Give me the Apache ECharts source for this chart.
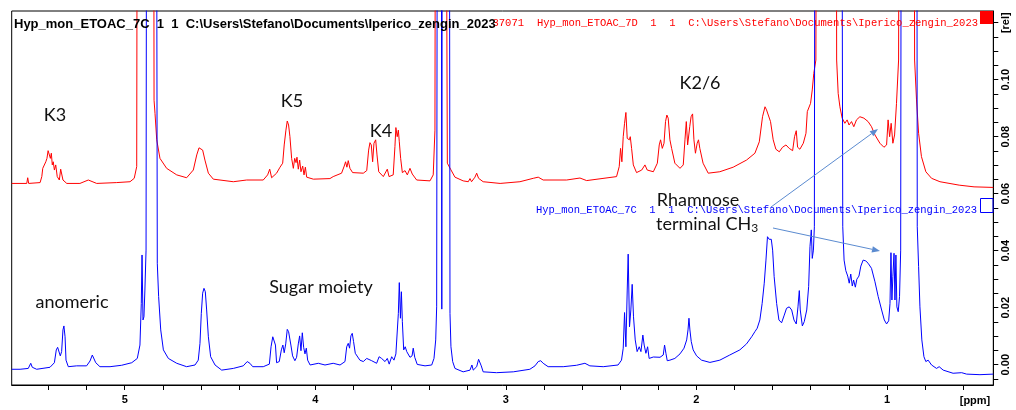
<!DOCTYPE html>
<html>
<head>
<meta charset="utf-8">
<script src="https://cdn.jsdelivr.net/npm/echarts@6/dist/echarts.min.js"></script>
<style>
  html, body { margin: 0; padding: 0; background: #fff; }
  #chart { width: 1016px; height: 410px; }
</style>
</head>
<body>
<div id="chart"></div>
<script>
// 1H NMR, two spectra stacked: [ppm, intensity]; 0.3 = peak running off the top
var redTrace = [
  [5.593,0.0636],[5.514,0.0636],[5.509,0.0656],[5.504,0.0636],[5.444,0.0639],[5.435,0.0660],[5.430,0.0689],[5.423,0.0683],
  [5.414,0.0712],[5.408,0.0724],[5.402,0.0751],[5.396,0.0747],[5.390,0.0724],[5.385,0.0742],[5.380,0.0701],[5.375,0.0712],
  [5.369,0.0683],[5.362,0.0701],[5.354,0.0660],[5.343,0.0648],[5.336,0.0686],[5.331,0.0686],[5.324,0.0648],[5.304,0.0636],
  [5.235,0.0636],[5.191,0.0648],[5.147,0.0636],[5.042,0.0639],[4.972,0.0642],[4.950,0.0654],[4.937,0.0695],[4.932,0.3],
  [4.850,0.3],[4.846,0.0928],[4.841,0.0882],[4.832,0.0789],[4.815,0.0724],[4.780,0.0689],[4.727,0.0666],[4.675,0.0656],
  [4.640,0.0683],[4.622,0.0736],[4.610,0.0761],[4.600,0.0765],[4.591,0.0753],[4.579,0.0718],[4.561,0.0672],[4.535,0.0651],
  [4.430,0.0642],[4.360,0.0648],[4.273,0.0648],[4.250,0.0666],[4.239,0.0686],[4.229,0.0656],[4.203,0.0672],[4.185,0.0693],
  [4.171,0.0707],[4.163,0.0771],[4.154,0.0823],[4.147,0.0855],[4.140,0.0841],[4.133,0.0800],[4.124,0.0724],[4.115,0.0689],
  [4.108,0.0724],[4.101,0.0709],[4.096,0.0728],[4.089,0.0686],[4.082,0.0718],[4.075,0.0677],[4.066,0.0697],[4.059,0.0666],
  [4.052,0.0693],[4.045,0.0658],[4.010,0.0651],[3.923,0.0653],[3.906,0.0660],[3.862,0.0672],[3.848,0.0697],[3.841,0.0712],
  [3.834,0.0693],[3.827,0.0716],[3.818,0.0689],[3.804,0.0674],[3.748,0.0672],[3.730,0.0681],[3.720,0.0753],[3.713,0.0779],
  [3.706,0.0771],[3.699,0.0712],[3.692,0.0777],[3.683,0.0789],[3.676,0.0736],[3.667,0.0677],[3.643,0.0660],[3.622,0.0686],
  [3.613,0.0660],[3.591,0.0666],[3.582,0.0765],[3.577,0.0832],[3.570,0.0800],[3.564,0.0823],[3.559,0.0782],[3.552,0.0724],
  [3.543,0.0674],[3.529,0.0681],[3.517,0.0666],[3.503,0.0689],[3.491,0.0669],[3.468,0.0648],[3.398,0.0645],[3.381,0.0666],
  [3.372,0.0823],[3.367,0.3],[3.319,0.3],[3.307,0.0707],[3.290,0.0686],[3.267,0.0658],[3.224,0.0645],[3.197,0.0642],
  [3.188,0.0653],[3.180,0.0642],[3.162,0.0658],[3.153,0.0672],[3.143,0.0654],[3.119,0.0642],[3.030,0.0636],[2.926,0.0642],
  [2.856,0.0654],[2.830,0.0658],[2.804,0.0648],[2.681,0.0648],[2.611,0.0655],[2.576,0.0646],[2.419,0.0660],[2.405,0.0695],
  [2.398,0.0759],[2.391,0.0712],[2.384,0.0800],[2.377,0.0847],[2.370,0.0885],[2.363,0.0794],[2.358,0.0800],[2.352,0.0789],
  [2.347,0.0800],[2.340,0.0759],[2.331,0.0701],[2.314,0.0674],[2.287,0.0683],[2.270,0.0701],[2.258,0.0683],[2.226,0.0677],
  [2.205,0.0707],[2.195,0.0771],[2.188,0.0789],[2.179,0.0759],[2.170,0.0777],[2.162,0.0853],[2.155,0.0876],[2.148,0.0865],
  [2.139,0.0789],[2.130,0.0759],[2.113,0.0707],[2.086,0.0689],[2.069,0.0701],[2.060,0.0789],[2.053,0.0853],[2.046,0.0771],
  [2.041,0.0777],[2.035,0.0835],[2.028,0.0870],[2.020,0.0880],[2.013,0.0789],[2.005,0.0742],[1.996,0.0777],[1.989,0.0789],
  [1.982,0.0759],[1.965,0.0707],[1.938,0.0672],[1.877,0.0677],[1.807,0.0693],[1.737,0.0718],[1.693,0.0742],[1.670,0.0782],
  [1.653,0.0870],[1.640,0.0905],[1.632,0.0894],[1.623,0.0900],[1.611,0.0853],[1.597,0.0789],[1.583,0.0756],[1.565,0.0747],
  [1.548,0.0763],[1.530,0.0771],[1.513,0.0759],[1.495,0.0751],[1.485,0.0800],[1.476,0.0821],[1.469,0.0763],[1.457,0.0756],
  [1.439,0.0777],[1.425,0.0812],[1.418,0.0888],[1.409,0.0894],[1.401,0.0917],[1.392,0.0964],[1.384,0.1022],[1.373,0.1069],
  [1.366,0.3],[1.268,0.3],[1.264,0.1069],[1.256,0.0952],[1.247,0.0905],[1.235,0.0865],[1.221,0.0847],[1.209,0.0859],
  [1.199,0.0841],[1.186,0.0853],[1.174,0.0835],[1.160,0.0859],[1.142,0.0870],[1.121,0.0865],[1.099,0.0853],[1.081,0.0835],
  [1.063,0.0806],[1.037,0.0777],[1.016,0.0763],[1.002,0.0771],[0.994,0.0859],[0.986,0.0800],[0.978,0.0847],[0.969,0.0777],
  [0.960,0.0806],[0.950,0.0917],[0.939,0.1069],[0.932,0.3],[0.860,0.3],[0.855,0.1069],[0.845,0.0929],[0.834,0.0812],
  [0.819,0.0730],[0.796,0.0677],[0.766,0.0654],[0.722,0.0642],[0.621,0.0630],[0.543,0.0624],[0.442,0.0622]
];

var blueTrace = [
  [5.593,-0.0016],[5.549,-0.0016],[5.506,-0.0013],[5.493,0.0005],[5.485,-0.0009],[5.462,-0.0016],[5.392,-0.0009],[5.369,0.0007],
  [5.359,0.0052],[5.352,0.0061],[5.345,0.0054],[5.338,0.0031],[5.331,0.0046],[5.324,0.0122],[5.319,0.0136],[5.313,0.0098],
  [5.308,0.0016],[5.296,-0.0007],[5.252,-0.0004],[5.200,-0.0004],[5.182,0.0013],[5.170,0.0034],[5.161,0.0027],[5.152,0.0007],
  [5.130,-0.0007],[5.077,-0.0007],[5.016,-0.0002],[4.963,0.0007],[4.934,0.0022],[4.920,0.0069],[4.913,0.0215],[4.909,0.0385],
  [4.904,0.0157],[4.899,0.0168],[4.894,0.0262],[4.888,0.0402],[4.883,0.3],[4.836,0.3],[4.829,0.0356],[4.822,0.0239],
  [4.811,0.0122],[4.797,0.0052],[4.771,0.0022],[4.727,0.0005],[4.675,-0.0007],[4.631,-0.0001],[4.614,0.0016],[4.605,0.0075],
  [4.598,0.0180],[4.591,0.0251],[4.584,0.0268],[4.577,0.0256],[4.570,0.0192],[4.561,0.0098],[4.549,0.0028],[4.526,-0.0001],
  [4.491,-0.0019],[4.430,-0.0013],[4.378,-0.0004],[4.357,0.0011],[4.343,0.0005],[4.328,-0.0007],[4.273,-0.0007],[4.241,0.0002],
  [4.232,0.0063],[4.223,0.0098],[4.216,0.0101],[4.209,0.0069],[4.203,0.0007],[4.189,0.0011],[4.178,0.0052],[4.170,0.0069],
  [4.163,0.0042],[4.155,0.0073],[4.147,0.0124],[4.140,0.0116],[4.133,0.0122],[4.128,0.0069],[4.119,0.0031],[4.107,0.0014],
  [4.098,0.0026],[4.089,0.0073],[4.082,0.0101],[4.075,0.0049],[4.068,0.0112],[4.061,0.0061],[4.054,0.0038],[4.047,0.0058],
  [4.040,0.0016],[4.027,-0.0001],[3.984,0.0005],[3.949,-0.0001],[3.906,0.0005],[3.870,-0.0001],[3.844,0.0011],[3.835,0.0063],
  [3.827,0.0075],[3.820,0.0058],[3.813,0.0101],[3.806,0.0110],[3.799,0.0081],[3.790,0.0040],[3.780,0.0044],[3.766,0.0016],
  [3.748,0.0011],[3.730,0.0022],[3.704,0.0014],[3.678,0.0005],[3.665,0.0028],[3.652,0.0022],[3.634,0.0011],[3.622,0.0022],
  [3.612,0.0002],[3.599,0.0028],[3.587,0.0016],[3.577,0.0038],[3.570,0.0031],[3.564,0.0180],[3.559,0.0288],[3.553,0.0163],
  [3.548,0.0256],[3.543,0.0151],[3.536,0.0052],[3.528,0.0063],[3.520,0.0046],[3.512,0.0052],[3.503,0.0026],[3.492,0.0031],
  [3.486,0.0058],[3.478,0.0026],[3.465,0.0001],[3.424,-0.0004],[3.389,-0.0001],[3.377,0.0022],[3.368,0.0087],[3.363,0.0203],
  [3.357,0.3],[3.340,0.3],[3.336,0.0195],[3.332,0.3],[3.298,0.3],[3.293,0.0180],[3.288,0.0063],[3.279,0.0011],
  [3.267,-0.0013],[3.224,-0.0025],[3.188,-0.0019],[3.178,-0.0001],[3.171,-0.0019],[3.153,-0.0007],[3.143,0.0019],[3.136,0.0022],
  [3.129,-0.0004],[3.119,-0.0025],[3.049,-0.0028],[2.961,-0.0025],[2.874,-0.0016],[2.847,-0.0004],[2.830,0.0011],[2.817,0.0014],
  [2.804,0.0005],[2.778,-0.0007],[2.699,-0.0007],[2.629,-0.0002],[2.585,0.0005],[2.559,-0.0004],[2.489,-0.0007],[2.411,-0.0001],
  [2.393,0.0016],[2.384,0.0058],[2.377,0.0183],[2.370,0.0063],[2.363,0.0262],[2.358,0.0388],[2.351,0.0133],[2.344,0.0192],
  [2.337,0.0282],[2.330,0.0168],[2.321,0.0087],[2.311,0.0046],[2.300,0.0063],[2.291,0.0046],[2.281,0.0104],[2.274,0.0069],
  [2.265,0.0040],[2.256,0.0063],[2.248,0.0022],[2.226,0.0027],[2.191,0.0026],[2.174,0.0034],[2.167,0.0069],[2.160,0.0040],
  [2.153,0.0014],[2.139,0.0016],[2.113,0.0022],[2.086,0.0038],[2.065,0.0058],[2.051,0.0087],[2.044,0.0122],[2.039,0.0163],
  [2.034,0.0122],[2.027,0.0081],[2.017,0.0052],[1.999,0.0031],[1.973,0.0016],[1.929,0.0008],[1.877,0.0016],[1.825,0.0034],
  [1.772,0.0052],[1.737,0.0073],[1.710,0.0098],[1.693,0.0116],[1.681,0.0128],[1.667,0.0157],[1.655,0.0215],[1.644,0.0286],
  [1.635,0.0367],[1.627,0.0449],[1.618,0.0440],[1.607,0.0440],[1.600,0.0402],[1.592,0.0309],[1.579,0.0215],[1.567,0.0157],
  [1.553,0.0147],[1.539,0.0174],[1.527,0.0198],[1.513,0.0203],[1.500,0.0192],[1.488,0.0157],[1.476,0.0143],[1.467,0.0203],
  [1.460,0.0260],[1.455,0.0192],[1.444,0.0136],[1.434,0.0151],[1.421,0.0192],[1.411,0.0274],[1.404,0.0414],[1.397,0.0473],
  [1.392,0.0373],[1.386,0.0402],[1.381,0.0484],[1.376,0.3],[1.240,0.3],[1.232,0.0484],[1.225,0.0367],[1.216,0.0330],
  [1.206,0.0311],[1.198,0.0286],[1.190,0.0318],[1.182,0.0276],[1.175,0.0297],[1.166,0.0272],[1.158,0.0300],[1.147,0.0311],
  [1.137,0.0346],[1.125,0.0367],[1.111,0.0364],[1.099,0.0356],[1.081,0.0338],[1.063,0.0291],[1.046,0.0239],[1.028,0.0192],
  [1.014,0.0157],[1.002,0.0143],[0.991,0.0154],[0.984,0.0215],[0.979,0.0393],[0.974,0.0227],[0.969,0.0309],[0.963,0.0391],
  [0.958,0.0227],[0.953,0.0385],[0.948,0.0203],[0.941,0.0186],[0.934,0.0239],[0.928,0.0402],[0.923,0.3],[0.845,0.3],
  [0.841,0.0484],[0.834,0.0344],[0.827,0.0203],[0.817,0.0087],[0.806,0.0028],[0.796,0.0011],[0.784,0.0016],[0.766,-0.0001],
  [0.740,-0.0013],[0.726,-0.0007],[0.705,-0.0019],[0.653,-0.0030],[0.608,-0.0028],[0.582,-0.0033],[0.512,-0.0035],[0.442,-0.0033]
];

// axis ticks / labels
var xTickValues = [5.4, 5.2, 5.0, 4.8, 4.6, 4.4, 4.2, 4.0, 3.8, 3.6, 3.4, 3.2, 3.0, 2.8, 2.6, 2.4, 2.2, 2.0, 1.8, 1.6, 1.4, 1.2, 1.0, 0.8, 0.6];
var xLabelValues = [5, 4, 3, 2, 1];
var yTickValues = [-0.005, 0, 0.005, 0.01, 0.015, 0.02, 0.025, 0.03, 0.035, 0.04, 0.045, 0.05, 0.055, 0.06,
                   0.065, 0.07, 0.075, 0.08, 0.085, 0.09, 0.095, 0.1, 0.105, 0.11, 0.115, 0.12];
var yLabelValues = [0, 0.02, 0.04, 0.06, 0.08, 0.1, 0.12];

var header7C = 'Hyp_mon_ETOAC_7C  1  1  C:\\Users\\Stefano\\Documents\\Iperico_zengin_2023';
var header7D = 'Hyp_mon_ETOAC_7D  1  1  C:\\Users\\Stefano\\Documents\\Iperico_zengin_2023';

var chart = echarts.init(document.getElementById('chart'), null, { renderer: 'canvas' });

var annoFont = '18px Lato';
var arrowColor = '#5b8bd0';

function arrow(x1, y1, x2, y2) {
  var a = Math.atan2(y2 - y1, x2 - x1), L = 8, W = 3.2;
  var bx = x2 - L * Math.cos(a), by = y2 - L * Math.sin(a);
  var px = -Math.sin(a) * W, py = Math.cos(a) * W;
  return [
    { type: 'line', z: 100, shape: { x1: x1, y1: y1, x2: bx, y2: by }, style: { stroke: arrowColor, lineWidth: 1 } },
    { type: 'polygon', z: 100, shape: { points: [[x2, y2], [bx + px, by + py], [bx - px, by - py]] }, style: { fill: arrowColor } }
  ];
}

function label(txt, x, y) {
  return { type: 'text', z: 100, x: x, y: y,
    style: { text: txt, font: annoFont, fill: '#111', align: 'center', verticalAlign: 'middle' } };
}

var graphics = [
  // red header (partly under black one)
  { type: 'text', z: 90, x: 524, y: 23, style: { text: '37071', font: '10.5px "Liberation Mono"', fill: '#ff0000', align: 'right', verticalAlign: 'middle' } },
  { type: 'text', z: 90, x: 978, y: 23, style: { text: header7D, font: '10.5px "Liberation Mono"', fill: '#ff0000', align: 'right', verticalAlign: 'middle' } },
  { type: 'rect', z: 90, shape: { x: 980, y: 11, width: 13, height: 13 }, style: { fill: '#ff0000' } },
  { type: 'text', z: 91, x: 14, y: 24, style: { text: header7C, font: 'bold 13px "Liberation Sans"', fill: '#000', align: 'left', verticalAlign: 'middle' } },
  // blue header
  { type: 'text', z: 90, x: 977, y: 210, style: { text: header7C, font: '10.5px "Liberation Mono"', fill: '#0000ff', align: 'right', verticalAlign: 'middle' } },
  { type: 'rect', z: 90, shape: { x: 980.5, y: 198.5, width: 12.5, height: 14 }, style: { fill: 'none', stroke: '#0000ff', lineWidth: 1 } },
  // annotations
  label('K3', 55, 115),
  label('K5', 292, 101),
  label('K4', 381, 131),
  label('K2/6', 700, 83),
  label('anomeric', 72, 302),
  label('Sugar moiety', 321, 287),
  label('Rhamnose', 698, 200),
  { type: 'text', z: 100, x: 656, y: 224,
    style: { text: 'terminal CH{s|3}', font: annoFont, fill: '#111', align: 'left', verticalAlign: 'middle',
      rich: { s: { font: '12px Lato', fill: '#111', verticalAlign: 'bottom', padding: [8, 0, 0, 0] } } } },
  { type: 'text', z: 100, x: 975, y: 401,
    style: { text: '[ppm]', font: 'bold 11px "Liberation Sans"', fill: '#000', align: 'center', verticalAlign: 'middle' } }
].concat(arrow(771, 207, 878, 129), arrow(773, 228, 880, 251));

var option = {
  animation: false,
  backgroundColor: '#fff',
  grid: { left: 11.7, right: 22.7, top: 11, bottom: 25, show: true, borderColor: '#000', borderWidth: 1,
          outerBoundsMode: 'none' },
  xAxis: {
    type: 'value', inverse: true, min: 0.442, max: 5.593,
    axisLine: { show: true, onZero: false, lineStyle: { color: '#000', width: 1 } },
    axisTick: { show: true, inside: false, length: 5, customValues: xTickValues, lineStyle: { color: '#000' } },
    axisLabel: { customValues: xLabelValues, formatter: function (v) { return String(v); },
                 fontFamily: 'Liberation Sans', fontWeight: 'bold', fontSize: 11, color: '#000', margin: 9 },
    splitLine: { show: false }
  },
  yAxis: {
    type: 'value', position: 'right', min: -0.00712, max: 0.1241,
    axisLine: { show: true, onZero: false, lineStyle: { color: '#000', width: 1 } },
    axisTick: { show: true, inside: false, length: 5, customValues: yTickValues, lineStyle: { color: '#000' } },
    axisLabel: { customValues: yLabelValues, rotate: 90,
                 formatter: function (v) { return v > 0.115 ? '[rel]' : v.toFixed(2); },
                 fontFamily: 'Liberation Sans', fontWeight: 'bold', fontSize: 11, color: '#000', margin: 7 },
    splitLine: { show: false }
  },
  series: [
    { name: '7D', type: 'line', data: redTrace, showSymbol: false, clip: true, z: 2,
      lineStyle: { color: '#ff0000', width: 1 }, itemStyle: { color: '#ff0000' } },
    { name: '7C', type: 'line', data: blueTrace, showSymbol: false, clip: true, z: 3,
      lineStyle: { color: '#0000ff', width: 1 }, itemStyle: { color: '#0000ff' } }
  ],
  graphic: graphics
};

chart.setOption(option);
</script>
</body>
</html>
